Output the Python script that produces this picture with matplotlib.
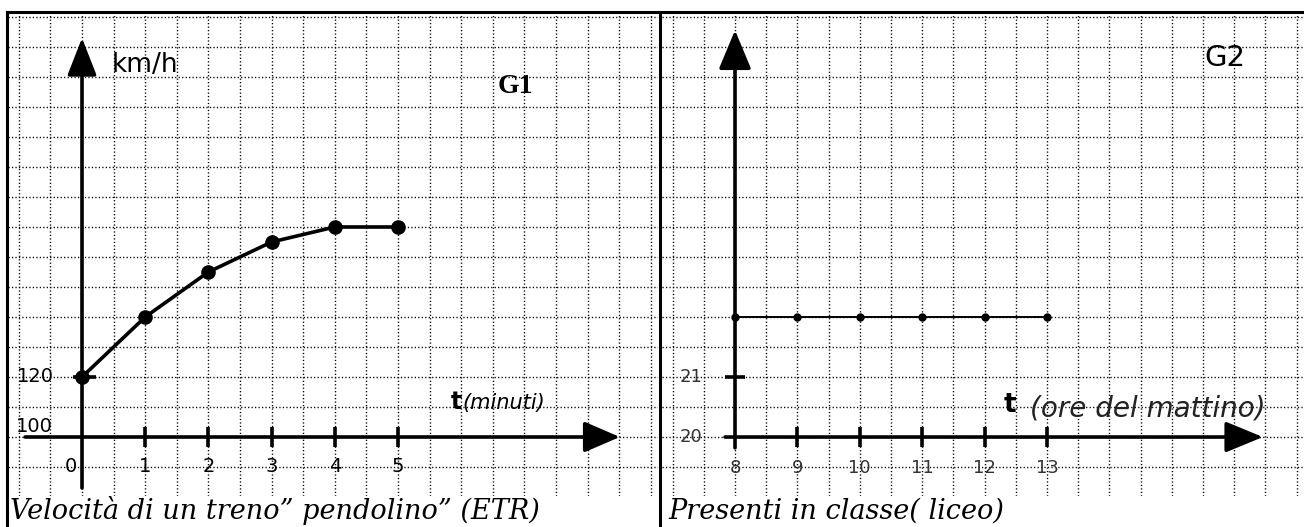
import matplotlib
matplotlib.use('Agg')
import matplotlib.pyplot as plt
import numpy as np
from matplotlib.lines import Line2D

W, H = 1304, 527

# G1: velocita' del pendolino
minutes = [0, 1, 2, 3, 4, 5]
speed_kmh = [120, 140, 155, 165, 170, 170]
minute_labels = ['0', '1', '2', '3', '4', '5']

# G2: presenti in classe
hours = [8, 9, 10, 11, 12, 13]
students = [22, 22, 22, 22, 22, 22]
hour_labels = ['8', '9', '10', '11', '12', '13']

fig = plt.figure(figsize=(W / 100, H / 100), dpi=100)
fig.patch.set_facecolor('white')


def box(x0, x1, y0, y1):
    # pixel box -> figure fraction
    return [x0 / W, 1 - y1 / H, (x1 - x0) / W, (y1 - y0) / H]


ax1 = fig.add_axes(box(8, 658, 13, 496))
ax2 = fig.add_axes(box(662, 1304, 13, 496))

ax1.set_xlim(-1.171, 9.114)
ax1.set_ylim(80.33, 241.33)
ax2.set_xlim(6.830, 17.119)
ax2.set_ylim(19.017, 27.067)

# dotted squared paper
ax1.set_xticks(np.arange(-1, 9.01, 0.5))
ax1.set_yticks(np.arange(90, 241, 10))
ax2.set_xticks(np.arange(7, 17.01, 0.5))
ax2.set_yticks(np.arange(19.5, 27.01, 0.5))
for ax in (ax1, ax2):
    for s in ax.spines.values():
        s.set_visible(False)
    ax.tick_params(length=0, labelbottom=False, labelleft=False)
    ax.grid(True, color='k', lw=1.0, ls=(0, (0.9, 1.6)))
    ax.set_axisbelow(True)
    ax.set_facecolor('none')


def arrow(ax, start, tip, hl, hw):
    ax.annotate('', xy=tip, xytext=start, annotation_clip=False,
                arrowprops=dict(arrowstyle='-|>,head_length=%s,head_width=%s' % (hl, hw),
                                mutation_scale=10, lw=2.6, color='k',
                                shrinkA=0, shrinkB=0))


# ---- G1 ----
arrow(ax1, (0, 83), (0, 233), 2.3, 0.9)
arrow(ax1, (-0.9, 100), (8.51, 100), 2.2, 0.95)
ax1.vlines(minutes[1:], 96.7, 103.3, color='k', lw=2.6)
ax1.hlines(120, -0.15, 0.22, color='k', lw=2.6)
ax1.plot(minutes, speed_kmh, color='k', lw=2.6, marker='o', ms=9.5, zorder=5)

for m, lab in zip(minutes[1:], minute_labels[1:]):
    ax1.text(m, 90.3, lab, ha='center', va='center', fontsize=14)
ax1.text(-0.08, 90.3, minute_labels[0], ha='right', va='center', fontsize=14)
ax1.text(-1.03, 120, '120', ha='left', va='center', fontsize=14)
ax1.text(-1.05, 103.6, '100', ha='left', va='center', fontsize=14)

ax1.text(0.47, 221.5, 'km/h', fontsize=19, va='baseline')
ax1.text(6.85, 216.7, 'G1', fontsize=20, fontweight='bold', family='Liberation Serif',
         ha='center', va='center')
ax1.text(5.92, 111.7, 't', fontsize=17, fontweight='bold', ha='center', va='center')
ax1.text(6.02, 111.2, '(minuti)', fontsize=15, style='italic', ha='left', va='center')

# ---- G2 ----
arrow(ax2, (8, 19.82), (8, 26.78), 2.4, 1.0)
arrow(ax2, (7.84, 20), (16.46, 20), 2.3, 0.95)
ax2.vlines(hours[1:], 19.83, 20.17, color='k', lw=2.6)
ax2.hlines(21, 7.84, 8.16, color='k', lw=2.6)
ax2.plot(hours, students, color='k', lw=1.4, marker='o', ms=5, zorder=5)

for h, lab in zip(hours, hour_labels):
    ax2.text(h, 19.48, lab, ha='center', va='center', fontsize=13, color='#333333')
ax2.text(7.3, 21, '21', ha='center', va='center', fontsize=13, color='#333333')
ax2.text(7.3, 20, '20', ha='center', va='center', fontsize=13, color='#333333')

ax2.text(15.85, 26.32, 'G2', fontsize=21, ha='center', va='center')
ax2.text(12.41, 20.53, 't', fontsize=19, fontweight='bold', ha='center', va='center')
ax2.text(12.73, 20.47, '(ore del mattino)', fontsize=20, style='italic',
         ha='left', va='center', color='#222222')

# captions
fig.text(10 / W, 1 - 519 / H, 'Velocità di un treno” pendolino” (ETR)',
         family='DejaVu Serif', style='italic', fontsize=19.5, va='baseline')
fig.text(668 / W, 1 - 519 / H, 'Presenti in classe( liceo)',
         family='DejaVu Serif', style='italic', fontsize=19.5, va='baseline')

# frame lines
top = 1 - 12 / H
fig.add_artist(Line2D([7 / W, 1], [top, top], color='k', lw=2.2))
fig.add_artist(Line2D([7 / W, 7 / W], [0, top], color='k', lw=2.2))
fig.add_artist(Line2D([660 / W, 660 / W], [0, top], color='k', lw=2.2))

fig.savefig('out.png', dpi=100)
